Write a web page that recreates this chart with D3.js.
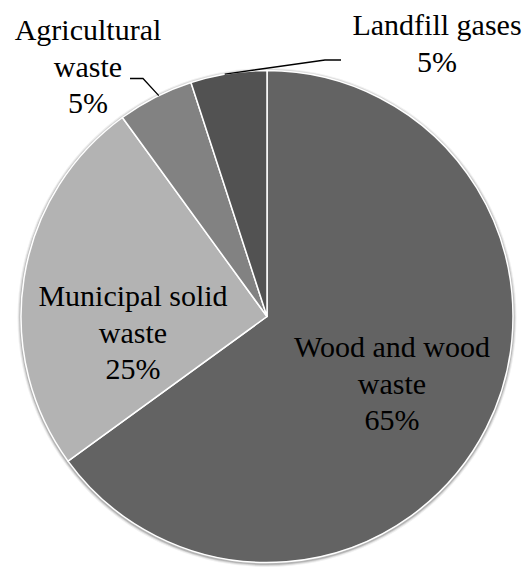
<!DOCTYPE html>
<html>
<head>
<meta charset="utf-8">
<script src="https://cdn.jsdelivr.net/npm/d3@7"></script>
<style>
  html, body { margin: 0; padding: 0; background: #fff; }
  svg { display: block; }
</style>
</head>
<body>
<div id="chart"></div>
<script>
const categories = ['Wood and wood waste', 'Municipal solid waste', 'Agricultural waste', 'Landfill gases'];
const values = [65, 25, 5, 5];
const colors = ['#636363', '#b3b3b3', '#828282', '#525252'];
// label lines per slice
const labelLines = [
  ['Wood and wood', 'waste', '65%'],
  ['Municipal solid', 'waste', '25%'],
  ['Agricultural', 'waste', '5%'],
  ['Landfill gases', '5%']
];

const W = 530, H = 567;
const cx = 267, cy = 316.5, r = 246;

const svg = d3.select('#chart').append('svg').attr('width', W).attr('height', H);

const data = categories.map((c, i) => ({ name: c, value: values[i], color: colors[i], lines: labelLines[i] }));

const pie = d3.pie().value(d => d.value).sort(null);
const arcs = pie(data);
const arc = d3.arc().innerRadius(0).outerRadius(r);

const g = svg.append('g').attr('transform', `translate(${cx},${cy})`);

// soft edge shadow, faked with faint rings
[[3.5, 0.06], [2.5, 0.1], [1.5, 0.16]].forEach(([dr, op]) => {
  g.append('circle').attr('cx', 0).attr('cy', 1).attr('r', r + dr)
    .attr('fill', '#000').attr('fill-opacity', op);
});

g.selectAll('path.slice').data(arcs).enter().append('path')
  .attr('class', 'slice')
  .attr('d', arc)
  .attr('fill', d => d.data.color)
  .attr('stroke', '#fff')
  .attr('stroke-width', 1.5)
  .attr('stroke-linejoin', 'round');

// leader lines for the two small slices: end at the slice's outer edge
function edgePoint(a, frac) {
  const ang = a.startAngle + (a.endAngle - a.startAngle) * frac;
  return [cx + Math.sin(ang) * r, cy - Math.cos(ang) * r];
}
const agEnd = edgePoint(arcs[2], 0.55);
const lfEnd = edgePoint(arcs[3], 0.45);
const line = d3.line();
svg.append('path')
  .attr('d', line([[130, 78.5], [143, 78.5], agEnd]))
  .attr('fill', 'none').attr('stroke', '#000').attr('stroke-width', 1.3);
svg.append('path')
  .attr('d', line([[341, 60], [325, 60], lfEnd]))
  .attr('fill', 'none').attr('stroke', '#000').attr('stroke-width', 1.3);

// label anchor positions (center x, first baseline y) in page coordinates
const labelPos = [
  { x: 392, y: 357 },
  { x: 133, y: 306 },
  { x: 88, y: 40 },
  { x: 437, y: 35 }
];
const lineH = 36.5;

arcs.forEach((a, i) => {
  const p = labelPos[i];
  const t = svg.append('text')
    .attr('text-anchor', 'middle')
    .attr('font-family', 'Liberation Serif')
    .attr('font-size', 30)
    .attr('fill', '#000');
  a.data.lines.forEach((ln, j) => {
    t.append('tspan').attr('x', p.x).attr('y', p.y + j * lineH).text(ln);
  });
});
</script>
</body>
</html>
